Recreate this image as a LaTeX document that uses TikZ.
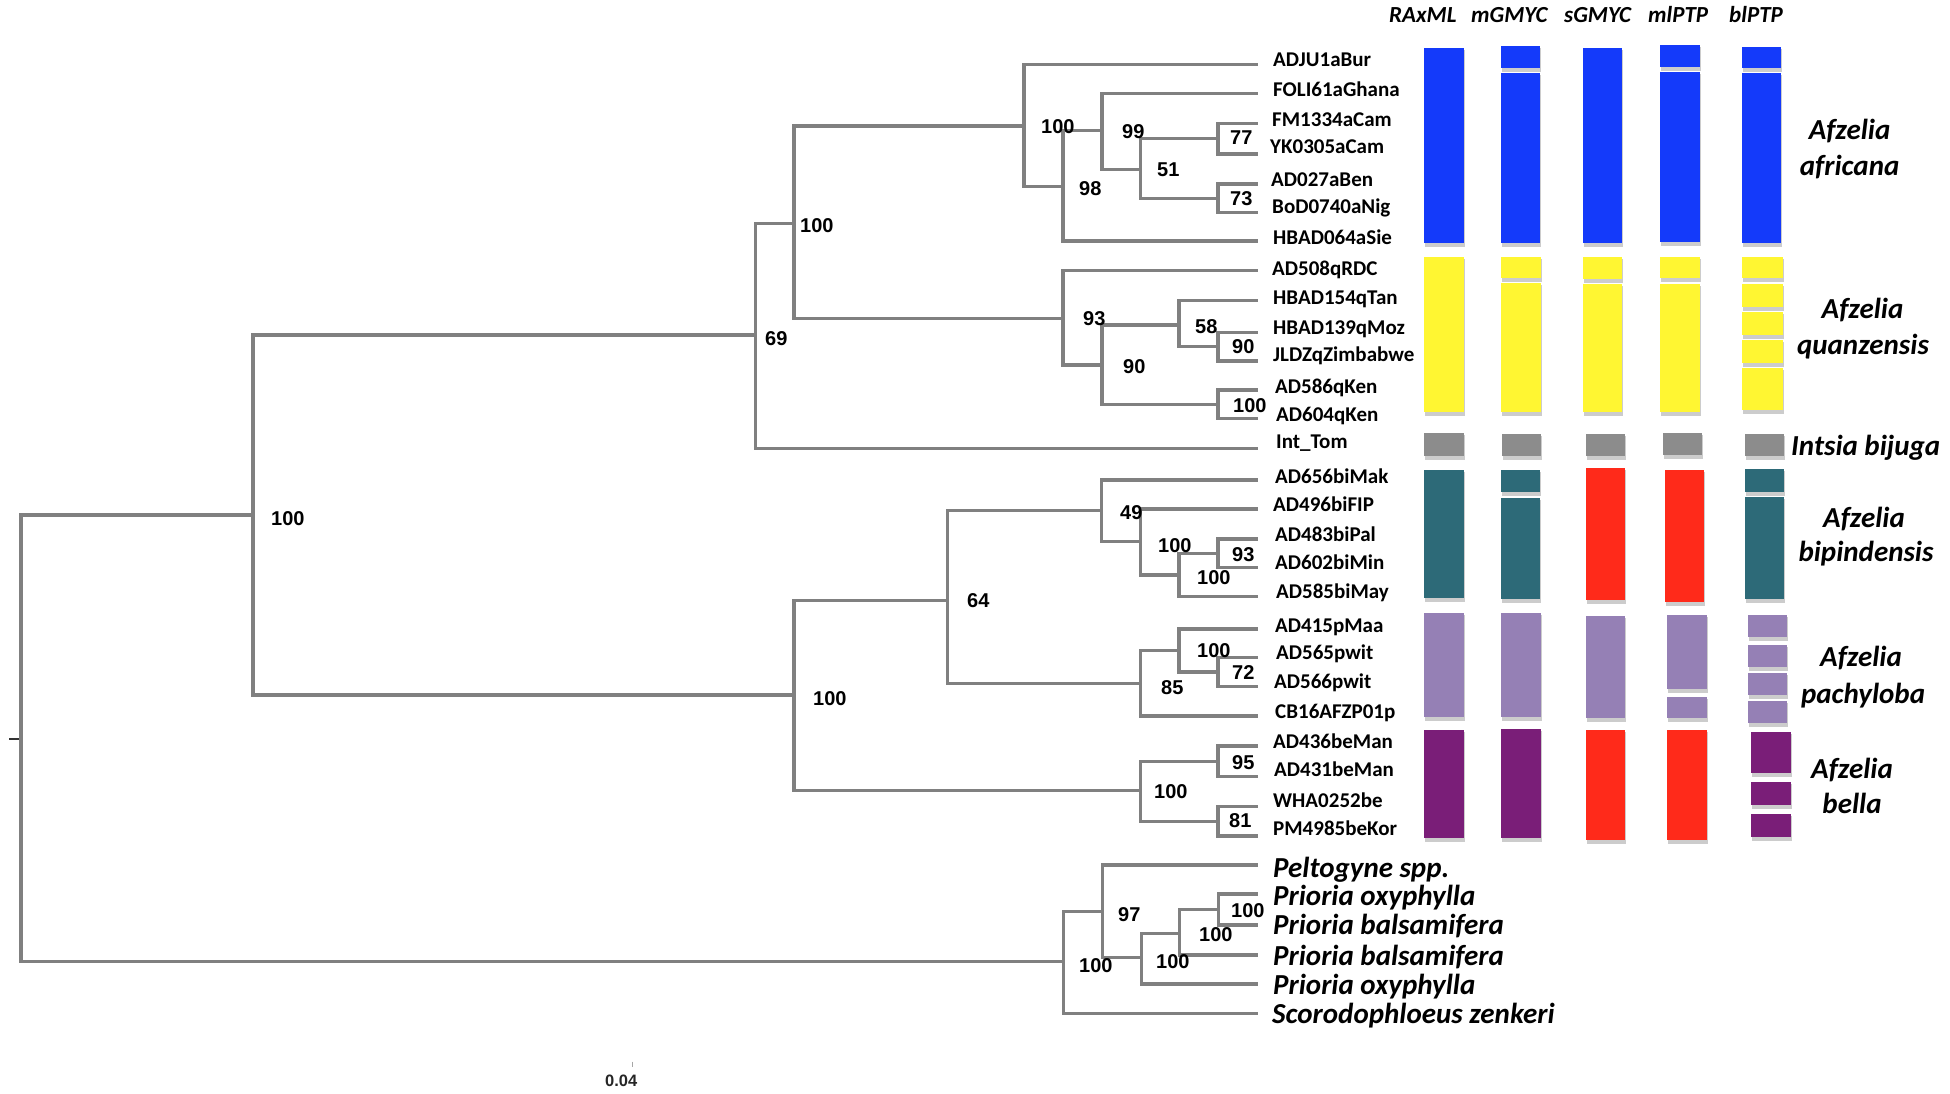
\documentclass[tikz,border=0pt]{standalone}
\usepackage{fontspec}
\newfontfamily\carl{Carlito}
\newfontfamily\arl{Liberation Sans}
\definecolor{brgray}{RGB}{128,128,128}
\definecolor{cblue}{RGB}{20,58,250}
\definecolor{cyellow}{RGB}{255,246,50}
\definecolor{cgray}{RGB}{140,140,140}
\definecolor{cteal}{RGB}{45,106,120}
\definecolor{cred}{RGB}{255,42,26}
\definecolor{clav}{RGB}{149,128,181}
\definecolor{cpurp}{RGB}{122,30,120}
\definecolor{cshadow}{RGB}{204,204,204}
\newcommand\barseg[5]{%
  \fill[cshadow] (#1+1,#3+2) rectangle (#2+1,#4+4);
  \fill[#5] (#1,#3) rectangle (#2,#4);}
\tikzset{
  br/.style={draw=brgray, line width=3.2pt},
  boot/.style={anchor=base west, inner sep=0pt, font=\arl\bfseries\fontsize{20}{20}\selectfont},
  tipl/.style={anchor=base west, inner sep=0pt, font=\carl\bfseries\fontsize{21}{21}\selectfont},
  outl/.style={anchor=base west, inner sep=0pt, font=\carl\bfseries\itshape\fontsize{29}{29}\selectfont},
  spl/.style={anchor=base, inner sep=0pt, font=\carl\bfseries\itshape\fontsize{29}{29}\selectfont},
  spw/.style={anchor=base west, inner sep=0pt, font=\carl\bfseries\itshape\fontsize{29}{29}\selectfont},
  hdr/.style={anchor=base west, inner sep=0pt, font=\carl\bfseries\itshape\fontsize{23}{23}\selectfont},
}
\begin{document}
\begin{tikzpicture}[x=1pt,y=-1pt]
\useasboundingbox (0,0) rectangle (1950,1094);
\fill[white] (0,0) rectangle (1950,1094);

% ---------- internal nodes ----------
\coordinate (R) at (21,738.5);
\coordinate (Rt) at (9,738.5);
\coordinate (U) at (253,515);
\coordinate (A69) at (755.7,335);
\coordinate (AQ) at (794,223.3);
\coordinate (AF) at (1024,126);
\coordinate (A98) at (1063,186.7);
\coordinate (A99) at (1102,130.5);
\coordinate (A51) at (1140.7,169.3);
\coordinate (A77) at (1218,138.7);
\coordinate (A73) at (1218,198.3);
\coordinate (Q93) at (1063,318.3);
\coordinate (Q90) at (1102,365);
\coordinate (Q58) at (1179,325);
\coordinate (Q90b) at (1218,346.8);
\coordinate (Q100) at (1218,404.2);
\coordinate (L100) at (794,695);
\coordinate (B64) at (947.6,600.6);
\coordinate (B49) at (1101.7,510.7);
\coordinate (B100a) at (1140.7,541.7);
\coordinate (B100b) at (1179,575);
\coordinate (B93) at (1218,553.3);
\coordinate (P85) at (1140.7,683.3);
\coordinate (P100) at (1179,650.7);
\coordinate (P72) at (1218,672);
\coordinate (E100) at (1140.7,790.7);
\coordinate (E95) at (1218,761.3);
\coordinate (E81) at (1218,821.3);
\coordinate (O100) at (1063.2,961.7);
\coordinate (O97) at (1102.5,911.7);
\coordinate (O100b) at (1141.8,957.3);
\coordinate (O100c) at (1179.3,933.3);
\coordinate (O100d) at (1218.6,909.5);

% ---------- tips ----------
\coordinate (t1) at (1258,64.3);
\coordinate (t2) at (1258,93.3);
\coordinate (t3) at (1258,123.3);
\coordinate (t4) at (1258,154);
\coordinate (t5) at (1258,184);
\coordinate (t6) at (1258,212.7);
\coordinate (t7) at (1258,241);
\coordinate (t8) at (1258,270.7);
\coordinate (t9) at (1258,300.7);
\coordinate (t10) at (1258,332.7);
\coordinate (t11) at (1258,361);
\coordinate (t12) at (1258,390);
\coordinate (t13) at (1258,418.3);
\coordinate (t14) at (1258,448.3);
\coordinate (t15) at (1258,480);
\coordinate (t16) at (1258,509);
\coordinate (t17) at (1258,539);
\coordinate (t18) at (1258,567.7);
\coordinate (t19) at (1258,596.7);
\coordinate (t20) at (1258,629);
\coordinate (t21) at (1258,657.3);
\coordinate (t22) at (1258,686.7);
\coordinate (t23) at (1258,716);
\coordinate (t24) at (1258,746);
\coordinate (t25) at (1258,776.7);
\coordinate (t26) at (1258,806.7);
\coordinate (t27) at (1258,836);
\coordinate (t28) at (1258,865);
\coordinate (t29) at (1258,894);
\coordinate (t30) at (1258,925);
\coordinate (t31) at (1258,955);
\coordinate (t32) at (1258,984);
\coordinate (t33) at (1258,1013.3);

% ---------- branches ----------
\draw[black!80, line width=2pt] (Rt) -- (R);
\draw[br] (R) |- (U);   \draw[br] (R) |- (O100);
\draw[br] (U) |- (A69); \draw[br] (U) |- (L100);
\draw[br] (A69) |- (AQ); \draw[br] (A69) |- (t14);
\draw[br] (AQ) |- (AF); \draw[br] (AQ) |- (Q93);
\draw[br] (AF) |- (t1); \draw[br] (AF) |- (A98);
\draw[br] (A98) |- (A99); \draw[br] (A98) |- (t7);
\draw[br] (A99) |- (t2); \draw[br] (A99) |- (A51);
\draw[br] (A51) |- (A77); \draw[br] (A51) |- (A73);
\draw[br] (A77) |- (t3); \draw[br] (A77) |- (t4);
\draw[br] (A73) |- (t5); \draw[br] (A73) |- (t6);
\draw[br] (Q93) |- (t8); \draw[br] (Q93) |- (Q90);
\draw[br] (Q90) |- (Q58); \draw[br] (Q90) |- (Q100);
\draw[br] (Q58) |- (t9); \draw[br] (Q58) |- (Q90b);
\draw[br] (Q90b) |- (t10); \draw[br] (Q90b) |- (t11);
\draw[br] (Q100) |- (t12); \draw[br] (Q100) |- (t13);
\draw[br] (L100) |- (B64); \draw[br] (L100) |- (E100);
\draw[br] (B64) |- (B49); \draw[br] (B64) |- (P85);
\draw[br] (B49) |- (t15); \draw[br] (B49) |- (B100a);
\draw[br] (B100a) |- (t16); \draw[br] (B100a) |- (B100b);
\draw[br] (B100b) |- (B93); \draw[br] (B100b) |- (t19);
\draw[br] (B93) |- (t17); \draw[br] (B93) |- (t18);
\draw[br] (P85) |- (P100); \draw[br] (P85) |- (t23);
\draw[br] (P100) |- (t20); \draw[br] (P100) |- (P72);
\draw[br] (P72) |- (t21); \draw[br] (P72) |- (t22);
\draw[br] (E100) |- (E95); \draw[br] (E100) |- (E81);
\draw[br] (E95) |- (t24); \draw[br] (E95) |- (t25);
\draw[br] (E81) |- (t26); \draw[br] (E81) |- (t27);
\draw[br] (O100) |- (O97); \draw[br] (O100) |- (t33);
\draw[br] (O97) |- (t28); \draw[br] (O97) |- (O100b);
\draw[br] (O100b) |- (O100c); \draw[br] (O100b) |- (t32);
\draw[br] (O100c) |- (O100d); \draw[br] (O100c) |- (t31);
\draw[br] (O100d) |- (t29); \draw[br] (O100d) |- (t30);

% ---------- bootstrap values ----------
\node[boot] (bU) at (271,525) {100};
\node[boot] (b69) at (765,345) {69};
\node[boot] (bAQ) at (800,232) {100};
\node[boot] (bAF) at (1041,134) {100};
\node[boot] (b98) at (1079,196) {98};
\node[boot] (b99) at (1122,138.5) {99};
\node[boot] (b51) at (1157,177) {51};
\node[boot] (b77) at (1230,145) {77};
\node[boot] (b73) at (1230,205) {73};
\node[boot] (b93q) at (1083,325) {93};
\node[boot] (b90q) at (1123,373) {90};
\node[boot] (b58) at (1195,333.5) {58};
\node[boot] (b90b) at (1232,353.5) {90};
\node[boot] (b100q) at (1233,412) {100};
\node[boot] (bL) at (813,705) {100};
\node[boot] (b64) at (967,607.5) {64};
\node[boot] (b49) at (1120,519.5) {49};
\node[boot] (b100a) at (1158,552) {100};
\node[boot] (b100b) at (1197,584) {100};
\node[boot] (b93b) at (1232,561) {93};
\node[boot] (b85) at (1161,694) {85};
\node[boot] (b100p) at (1197,657) {100};
\node[boot] (b72) at (1232,679.5) {72};
\node[boot] (b100e) at (1154,798.5) {100};
\node[boot] (b95) at (1232,769.5) {95};
\node[boot] (b81) at (1229,827) {81};
\node[boot] (bO) at (1079,972) {100};
\node[boot] (b97) at (1118,921) {97};
\node[boot] (bOb) at (1156,968.5) {100};
\node[boot] (bOc) at (1199,941) {100};
\node[boot] (bOd) at (1231,917) {100};

% ---------- tip labels ----------
\node[tipl] (l1) at (1273,66.5) {ADJU1aBur};
\node[tipl] (l2) at (1273,96.8) {FOLI61aGhana};
\node[tipl] (l3) at (1272,127) {FM1334aCam};
\node[tipl] (l4) at (1270,153.8) {YK0305aCam};
\node[tipl] (l5) at (1271,186.8) {AD027aBen};
\node[tipl] (l6) at (1272,213.5) {BoD0740aNig};
\node[tipl] (l7) at (1273,244) {HBAD064aSie};
\node[tipl] (l8) at (1272,275.8) {AD508qRDC};
\node[tipl] (l9) at (1273,304.5) {HBAD154qTan};
\node[tipl] (l10) at (1273,334) {HBAD139qMoz};
\node[tipl] (l11) at (1273,361.8) {JLDZqZimbabwe};
\node[tipl] (l12) at (1275,393.8) {AD586qKen};
\node[tipl] (l13) at (1276,421.8) {AD604qKen};
\node[tipl] (l14) at (1276,448.8) {Int\_Tom};
\node[tipl] (l15) at (1275,483.8) {AD656biMak};
\node[tipl] (l16) at (1273,511) {AD496biFIP};
\node[tipl] (l17) at (1275,541.8) {AD483biPal};
\node[tipl] (l18) at (1275,569.8) {AD602biMin};
\node[tipl] (l19) at (1276,598.8) {AD585biMay};
\node[tipl] (l20) at (1275,632) {AD415pMaa};
\node[tipl] (l21) at (1276,659.8) {AD565pwit};
\node[tipl] (l22) at (1274,688.8) {AD566pwit};
\node[tipl] (l23) at (1275,718.8) {CB16AFZP01p};
\node[tipl] (l24) at (1273,748.8) {AD436beMan};
\node[tipl] (l25) at (1274,776.8) {AD431beMan};
\node[tipl] (l26) at (1273,807.8) {WHA0252be};
\node[tipl] (l27) at (1273,835.8) {PM4985beKor};
\node[outl] (l28) at (1273,877) {Peltogyne spp.};
\node[outl] (l29) at (1273,905.6) {Prioria oxyphylla};
\node[outl] (l30) at (1273,934.6) {Prioria balsamifera};
\node[outl] (l31) at (1273,965) {Prioria balsamifera};
\node[outl] (l32) at (1273,994.6) {Prioria oxyphylla};
\node[outl] (l33) at (1272,1023.3) {Scorodophloeus zenkeri};

% ---------- scale ----------
\coordinate (s1) at (632.7,1061.5);
\coordinate (s2) at (632.7,1066.5);
\draw[black!35, line width=1pt] (s1) -- (s2);
\node[anchor=base west, inner sep=0pt, font=\arl\bfseries\fontsize{16.5}{16.5}\selectfont, text=black!85] (sc) at (605,1086.5) {0.04};

% ---------- column headers ----------
\node[hdr] (h1) at (1389,22.7) {RAxML};
\node[hdr] (h2) at (1471,22.7) {mGMYC};
\node[hdr] (h3) at (1564,22.7) {sGMYC};
\node[hdr] (h4) at (1648,22.7) {mlPTP};
\node[hdr] (h5) at (1729,22.7) {blPTP};

% ---------- delimitation bars ----------
% africana
\barseg{1424}{1464}{47.7}{242.7}{cblue}
\barseg{1501}{1540}{46}{68.3}{cblue}
\barseg{1501}{1540}{72.7}{242.7}{cblue}
\barseg{1583}{1622}{47.7}{242.7}{cblue}
\barseg{1660}{1700}{45}{66.7}{cblue}
\barseg{1660}{1700}{71.7}{241.7}{cblue}
\barseg{1742}{1781}{46.7}{68.3}{cblue}
\barseg{1742}{1781}{72.7}{243.3}{cblue}
% quanzensis
\barseg{1424}{1464}{256.7}{411.7}{cyellow}
\barseg{1501}{1541}{256.7}{278.3}{cyellow}
\barseg{1501}{1541}{283.3}{411.7}{cyellow}
\barseg{1583}{1622}{256.7}{279.3}{cyellow}
\barseg{1583}{1622}{284.3}{411.7}{cyellow}
\barseg{1660}{1700}{256.7}{278.3}{cyellow}
\barseg{1660}{1700}{284.3}{411.7}{cyellow}
\barseg{1742}{1783}{256.7}{278.3}{cyellow}
\barseg{1742}{1783}{284.3}{306.7}{cyellow}
\barseg{1742}{1783}{311.7}{335}{cyellow}
\barseg{1742}{1783}{340}{362.7}{cyellow}
\barseg{1742}{1783}{367.7}{410}{cyellow}
% Intsia
\barseg{1424}{1464}{432.7}{456}{cgray}
\barseg{1502}{1541}{433.5}{456}{cgray}
\barseg{1586}{1625}{433.5}{456}{cgray}
\barseg{1663}{1702}{432.7}{455}{cgray}
\barseg{1745}{1784}{433.5}{456}{cgray}
% bipindensis
\barseg{1424}{1464}{470}{598.3}{cteal}
\barseg{1501}{1540}{470}{491.7}{cteal}
\barseg{1501}{1540}{498.3}{599.3}{cteal}
\barseg{1586}{1625}{468.3}{600}{cred}
\barseg{1665}{1704}{470}{601.7}{cred}
\barseg{1745}{1784}{469.3}{491.7}{cteal}
\barseg{1745}{1784}{497.3}{599.3}{cteal}
% pachyloba
\barseg{1424}{1464}{613.3}{716.7}{clav}
\barseg{1501}{1541}{613.3}{716.7}{clav}
\barseg{1586}{1625}{616}{718.3}{clav}
\barseg{1667}{1707}{615}{689.3}{clav}
\barseg{1667}{1707}{696.7}{718.3}{clav}
\barseg{1748}{1787}{615}{636.7}{clav}
\barseg{1748}{1787}{645}{666.7}{clav}
\barseg{1748}{1787}{673.3}{695}{clav}
\barseg{1748}{1787}{701}{723.3}{clav}
% bella
\barseg{1424}{1464}{730}{838.3}{cpurp}
\barseg{1501}{1541}{729.3}{838.3}{cpurp}
\barseg{1586}{1625}{730}{840}{cred}
\barseg{1667}{1707}{730}{840}{cred}
\barseg{1751}{1791}{731.7}{773.3}{cpurp}
\barseg{1751}{1791}{782.3}{805}{cpurp}
\barseg{1751}{1791}{814}{837.3}{cpurp}

% ---------- species labels ----------
\node[spl] (sp1a) at (1849.6,140) {Afzelia};
\node[spl] (sp1b) at (1849.6,176) {africana};
\node[spl] (sp2a) at (1862.5,318.3) {Afzelia};
\node[spl] (sp2b) at (1863,354) {quanzensis};
\node[spw] (sp3) at (1791,455) {Intsia bijuga};
\node[spl] (sp4a) at (1864,527.3) {Afzelia};
\node[spl] (sp4b) at (1866,561.7) {bipindensis};
\node[spl] (sp5a) at (1861,666.7) {Afzelia};
\node[spl] (sp5b) at (1863,703.3) {pachyloba};
\node[spl] (sp6a) at (1852,778.3) {Afzelia};
\node[spl] (sp6b) at (1852,813.3) {bella};
\end{tikzpicture}
\end{document}
